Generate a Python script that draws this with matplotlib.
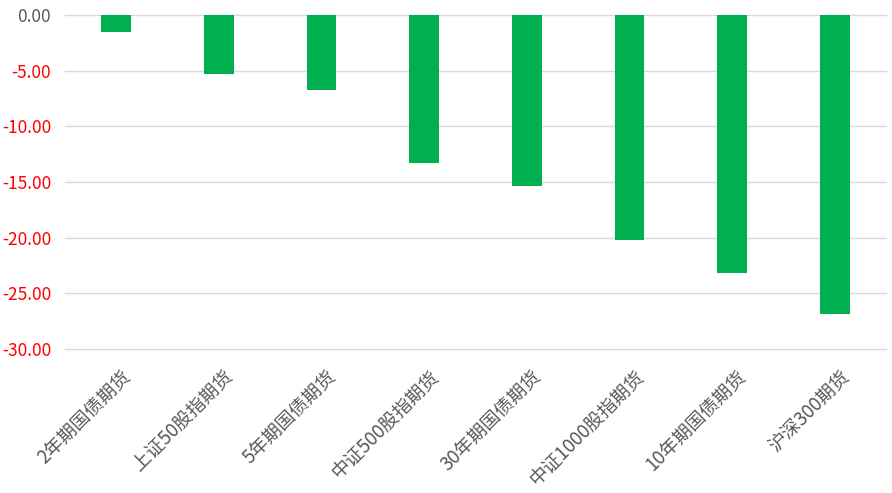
import matplotlib
matplotlib.use("Agg")
import matplotlib.pyplot as plt
from matplotlib.transforms import ScaledTranslation

categories = ["2年期国债期货", "上证50股指期货", "5年期国债期货", "中证500股指期货",
              "30年期国债期货", "中证1000股指期货", "10年期国债期货", "沪深300期货"]
values = [-1.55, -5.3, -6.75, -13.3, -15.35, -20.2, -23.15, -26.9]
yticks = [0, -5, -10, -15, -20, -25, -30]

plt.rcParams['font.family'] = ['Noto Sans CJK SC', 'DejaVu Sans']

fig = plt.figure(figsize=(8.92, 4.93), dpi=100)
ax = fig.add_axes([65/892, 1-349/493, (886-65)/892, (349-15)/493])

x = list(range(len(categories)))
ax.bar(x, values, width=0.29, color='#00B050', zorder=3)
ax.set_xlim(-0.5, len(categories)-0.5)
ax.set_ylim(-30, 0)
ax.set_yticks(yticks)
ax.set_yticklabels([f"{v:.2f}" for v in yticks], fontsize=12.5)
for lbl, v in zip(ax.get_yticklabels(), yticks):
    lbl.set_color('#595959' if v == 0 else '#FF0000')
ax.tick_params(axis='y', length=0, pad=10)
ax.set_xticks(x)
ax.set_xticklabels(categories, rotation=45, ha='right', va='center',
                   rotation_mode='anchor', fontsize=13.5, color='#595959')
ax.tick_params(axis='x', length=0, pad=0)
offset = ScaledTranslation(12/100, -25/100, fig.dpi_scale_trans)
for lbl in ax.get_xticklabels():
    lbl.set_transform(lbl.get_transform() + offset)
ax.yaxis.grid(True, color='#D9D9D9', linewidth=1, zorder=0)
for gl in ax.get_ygridlines():
    gl.set_clip_on(False)
ax.set_axisbelow(True)
for s in ax.spines.values():
    s.set_visible(False)

fig.savefig("out.png", dpi=100)
